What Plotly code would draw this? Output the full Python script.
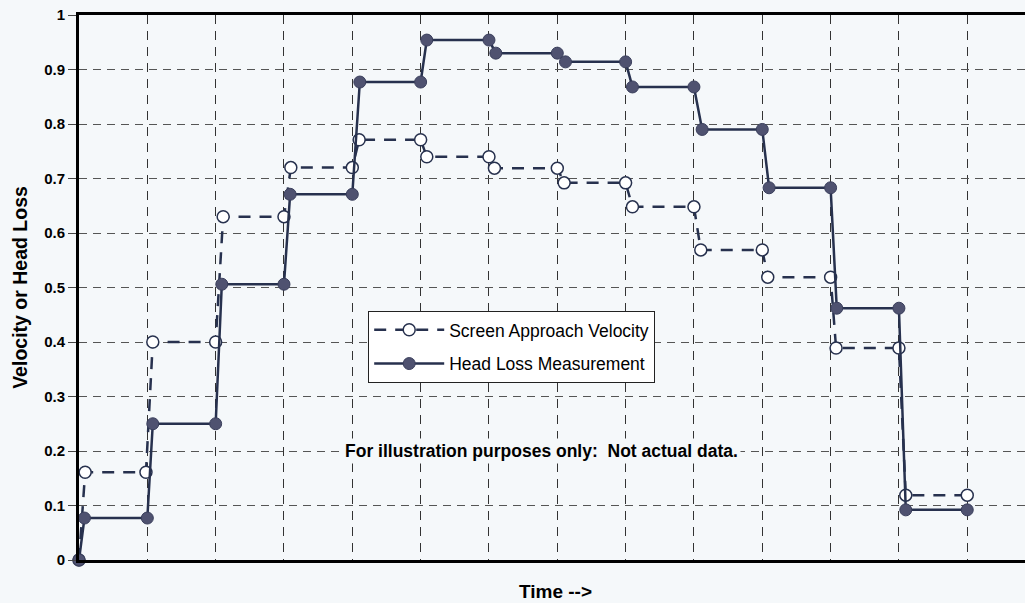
import plotly.graph_objects as go

# Time (grid units) and values
velocity_t = [0, 0.09, 0.98, 1.08, 2.0, 2.11, 3.0, 3.1, 4.0, 4.1, 5.0, 5.09, 6.0, 6.08,
              7.0, 7.1, 8.0, 8.1, 9.0, 9.1, 10.0, 10.08, 11.0, 11.08, 12.0, 12.1, 13.0]
velocity_v = [0, 0.161, 0.161, 0.40, 0.40, 0.63, 0.63, 0.72, 0.72, 0.771, 0.771, 0.740, 0.740,
              0.719, 0.719, 0.692, 0.692, 0.648, 0.648, 0.569, 0.569, 0.519, 0.519, 0.389,
              0.389, 0.119, 0.119]

headloss_t = [0, 0.08, 1.0, 1.08, 2.0, 2.09, 3.0, 3.09, 4.0, 4.11, 5.0, 5.09, 6.0, 6.1,
              7.0, 7.12, 8.0, 8.1, 9.0, 9.12, 10.0, 10.1, 11.0, 11.09, 12.0, 12.1, 13.0]
headloss_v = [0, 0.077, 0.077, 0.25, 0.25, 0.506, 0.506, 0.671, 0.671, 0.877, 0.877, 0.954,
              0.954, 0.930, 0.930, 0.914, 0.914, 0.868, 0.868, 0.790, 0.790, 0.683, 0.683,
              0.462, 0.462, 0.092, 0.092]

y_ticks = [0, 0.1, 0.2, 0.3, 0.4, 0.5, 0.6, 0.7, 0.8, 0.9, 1]
y_tick_labels = ["0", "0.1", "0.2", "0.3", "0.4", "0.5", "0.6", "0.7", "0.8", "0.9", "1"]
x_grid = list(range(0, 14))

LINE = "#27314e"
BG = "#f5f8fa"
FONT = "Arial, Liberation Sans"

fig = go.Figure()
fig.add_trace(go.Scatter(
    x=velocity_t, y=velocity_v, mode="lines+markers",
    name="Screen Approach Velocity", legendgroup="a",
    line=dict(color=LINE, width=2.5, dash="12px,9px"),
    marker=dict(symbol="circle", size=12, color="white", line=dict(color=LINE, width=1.5)),
    cliponaxis=False,
))
fig.add_trace(go.Scatter(
    x=headloss_t, y=headloss_v, mode="lines+markers",
    name="Head Loss Measurement", legendgroup="b",
    line=dict(color=LINE, width=2.5),
    marker=dict(symbol="circle", size=12, color="#4f5270", line=dict(color="#3a3f5c", width=1)),
    cliponaxis=False,
))

fig.add_annotation(
    x=6.77, y=0.2, xref="x", yref="y",
    text="For illustration purposes only:\u00a0 Not actual data.",
    showarrow=False, font=dict(family=FONT, size=17.5, color="black", weight="bold"),
    xanchor="center", yanchor="middle", bgcolor=BG, borderpad=2,
)
fig.add_annotation(
    x=0.504, y=-0.057, xref="paper", yref="paper",
    text="Time -->", showarrow=False,
    font=dict(family=FONT, size=19, color="black", weight="bold"),
    xanchor="center", yanchor="middle",
)

fig.update_layout(
    width=1025, height=603, autosize=False,
    margin=dict(l=79, r=0, t=15, b=43),
    paper_bgcolor=BG, plot_bgcolor=BG,
    font=dict(family=FONT, color="black"),
    showlegend=True,
    legend=dict(
        x=0.3057, y=0.457, xanchor="left", yanchor="top",
        bgcolor="white", bordercolor="#222", borderwidth=1,
        font=dict(size=17.5, family=FONT, color="black"),
        traceorder="grouped", tracegroupgap=8, itemwidth=70,
    ),
    xaxis=dict(
        range=[0, 13.845], tickvals=x_grid, showticklabels=False, ticks="",
        showgrid=True, gridcolor="#333", gridwidth=1, griddash="9px,7px",
        showline=True, linecolor="black", linewidth=3, mirror=True,
        zeroline=False, fixedrange=True,
    ),
    yaxis=dict(
        range=[0, 1], tickvals=y_ticks, ticktext=y_tick_labels,
        ticks="outside", ticklen=8, tickcolor="#444", tickwidth=1,
        tickfont=dict(size=15, family=FONT, color="black", weight="bold"),
        showgrid=True, gridcolor="#555", gridwidth=1, griddash="8px,6px",
        showline=True, linecolor="black", linewidth=3, mirror=False,
        zeroline=False, fixedrange=True,
        title=dict(text="Velocity or Head Loss", standoff=12,
                   font=dict(size=19.5, family=FONT, color="black", weight="bold")),
    ),
)

fig.write_html(
    "out.html",
    config={"displayModeBar": False},
    post_script="document.body.style.margin='0';document.body.style.overflow='hidden';",
)
